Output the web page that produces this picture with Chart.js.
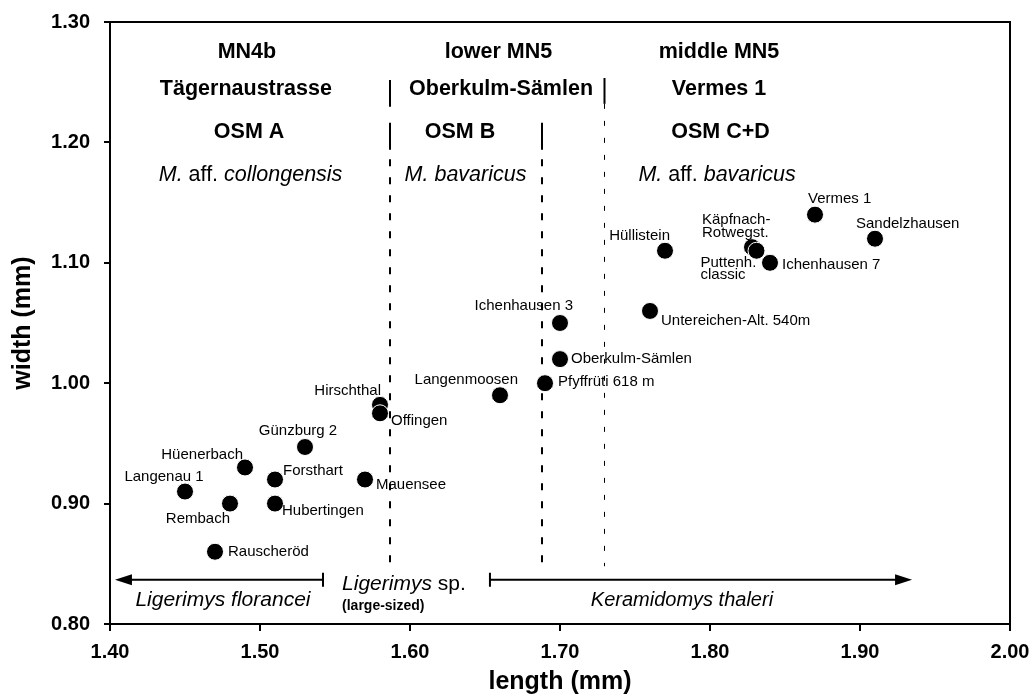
<!DOCTYPE html>
<html>
<head>
<meta charset="utf-8">
<script src="https://cdn.jsdelivr.net/npm/chart.js@4.4.1/dist/chart.umd.min.js"></script>
<style>
  html, body { margin: 0; background: #fff; }
  #chart { display: block; }
</style>
</head>
<body>
<canvas id="chart" width="1035" height="697"></canvas>
<script>
// localities with mean M1 size
const localities = [
    'Langenau 1', 'Rembach', 'Hüenerbach', 'Forsthart', 'Hubertingen', 'Günzburg 2',
    'Rauscheröd', 'Mauensee', 'Hirschthal', 'Offingen', 'Langenmoosen', 'Pfyffrüti 618 m',
    'Oberkulm-Sämlen', 'Ichenhausen 3', 'Untereichen-Alt. 540m', 'Hüllistein',
    'Käpfnach-\nRotwegst.', 'Puttenh.\nclassic', 'Ichenhausen 7', 'Vermes 1', 'Sandelzhausen'
];
const lengths = [
    1.45, 1.48, 1.49, 1.51, 1.51, 1.53,
    1.47, 1.57, 1.58, 1.58, 1.66, 1.69,
    1.70, 1.70, 1.76, 1.77,
    1.828, 1.831, 1.84, 1.87, 1.91
];
const widths = [
    0.91, 0.90, 0.93, 0.92, 0.90, 0.947,
    0.86, 0.92, 0.982, 0.975, 0.99, 1.00,
    1.02, 1.05, 1.06, 1.11,
    1.113, 1.110, 1.10, 1.14, 1.12
];

const xTicks = [1.40, 1.50, 1.60, 1.70, 1.80, 1.90, 2.00];
const yTicks = [0.80, 0.90, 1.00, 1.10, 1.20, 1.30];

const FONT = "'Liberation Sans', Arial, Helvetica, sans-serif";

// where each locality name sits next to its dot (pixels)
const labelPlacement = {
    'Langenau 1': { dx: -21, dy: -15, align: 'center' },
    'Rembach': { dx: 0, dy: 15, align: 'right' },
    'Hüenerbach': { dx: -2, dy: -13, align: 'right' },
    'Forsthart': { dx: 8, dy: -9, align: 'left' },
    'Hubertingen': { dx: 7, dy: 7, align: 'left' },
    'Günzburg 2': { dx: -7, dy: -16, align: 'center' },
    'Rauscheröd': { dx: 13, dy: 0, align: 'left' },
    'Mauensee': { dx: 11, dy: 5, align: 'left' },
    'Hirschthal': { dx: 1, dy: -14, align: 'right' },
    'Offingen': { dx: 11, dy: 8, align: 'left' },
    'Langenmoosen': { dx: 18, dy: -15, align: 'right' },
    'Pfyffrüti 618 m': { dx: 13, dy: -1, align: 'left' },
    'Oberkulm-Sämlen': { dx: 11, dy: 0, align: 'left' },
    'Ichenhausen 3': { dx: 13, dy: -17, align: 'right' },
    'Untereichen-Alt. 540m': { dx: 11, dy: 10, align: 'left' },
    'Hüllistein': { dx: 5, dy: -15, align: 'right' },
    'Käpfnach-\nRotwegst.': { dx: -50, dy: -27, align: 'left' },
    'Puttenh.\nclassic': { dx: -56, dy: 12, align: 'left' },
    'Ichenhausen 7': { dx: 12, dy: 2, align: 'left' },
    'Vermes 1': { dx: -7, dy: -16, align: 'left' },
    'Sandelzhausen': { dx: -19, dy: -15, align: 'left' }
};

// header block: biostratigraphy / reference locality / OSM unit / species
const headerRows = [
    { y: 1.275, items: [
        { x: 1.4913, parts: [['MN4b', 'bold']] },
        { x: 1.659, parts: [['lower MN5', 'bold']] },
        { x: 1.806, parts: [['middle MN5', 'bold']] }
    ]},
    { y: 1.2442, items: [
        { x: 1.4906, parts: [['Tägernaustrasse', 'bold']] },
        { x: 1.6607, parts: [['Oberkulm-Sämlen', 'bold']] },
        { x: 1.806, parts: [['Vermes 1', 'bold']] }
    ]},
    { y: 1.2084, items: [
        { x: 1.4927, parts: [['OSM A', 'bold']] },
        { x: 1.6333, parts: [['OSM B', 'bold']] },
        { x: 1.807, parts: [['OSM C+D', 'bold']] }
    ]},
    { y: 1.1726, items: [
        { x: 1.4937, parts: [['M.', 'italic'], [' aff. ', 'normal'], ['collongensis', 'italic']] },
        { x: 1.637, parts: [['M.', 'italic'], [' bavaricus', 'italic']] },
        { x: 1.8047, parts: [['M.', 'italic'], [' aff. ', 'normal'], ['bavaricus', 'italic']] }
    ]}
];

// vertical separators between the three groups
const dividers = [
    { x: 1.5867, lw: 2, dash: [7, 11], from: 0.848, to: 1.186, solid: [[1.2296, 1.2518], [1.1938, 1.2163]] },
    { x: 1.6878, lw: 2, dash: [7, 11], from: 0.848, to: 1.186, solid: [[1.1938, 1.2163]] },
    { x: 1.7293, lw: 1, dash: [5, 12], from: 0.848, to: 1.232, solid: [[1.232, 1.2535]] }
];

// species ranges along the bottom
const ranges = [
    { from: 1.542, to: 1.4033, y: 0.8367 },
    { from: 1.6533, to: 1.9347, y: 0.8367 }
];

function drawParts(ctx, parts, x, y, size, align) {
    const fontFor = style => {
        if (style === 'bold') return `bold ${size}px ${FONT}`;
        if (style === 'italic') return `italic ${size}px ${FONT}`;
        return `${size}px ${FONT}`;
    };
    let total = 0;
    parts.forEach(p => {
        ctx.font = fontFor(p[1]);
        total += ctx.measureText(p[0]).width;
    });
    let cx = align === 'center' ? x - total / 2 : x;
    ctx.textAlign = 'left';
    ctx.textBaseline = 'middle';
    parts.forEach(p => {
        ctx.font = fontFor(p[1]);
        ctx.fillText(p[0], cx, y);
        cx += ctx.measureText(p[0]).width;
    });
}

function drawRange(ctx, x1, x2, y) {
    // bar end at x1, arrow head at x2
    const dir = Math.sign(x2 - x1);
    ctx.lineWidth = 2;
    ctx.setLineDash([]);
    ctx.beginPath();
    ctx.moveTo(x1, y);
    ctx.lineTo(x2 - dir * 10, y);
    ctx.moveTo(x1, y - 7);
    ctx.lineTo(x1, y + 7);
    ctx.stroke();
    ctx.beginPath();
    ctx.moveTo(x2, y);
    ctx.lineTo(x2 - dir * 17, y - 5.5);
    ctx.lineTo(x2 - dir * 17, y + 5.5);
    ctx.closePath();
    ctx.fill();
}

const annotations = {
    id: 'annotations',
    beforeDatasetsDraw(chart) {
        const { ctx, chartArea, scales: { x, y } } = chart;
        ctx.save();
        ctx.strokeStyle = '#000';
        ctx.fillStyle = '#000';

        dividers.forEach(d => {
            const px = Math.round(x.getPixelForValue(d.x)) + (d.lw === 1 ? 0.5 : 0);
            ctx.lineWidth = d.lw;
            ctx.setLineDash(d.dash);
            ctx.beginPath();
            ctx.moveTo(px, y.getPixelForValue(d.to));
            ctx.lineTo(px, y.getPixelForValue(d.from));
            ctx.stroke();
            ctx.setLineDash([]);
            ctx.lineWidth = 2;
            d.solid.forEach(s => {
                ctx.beginPath();
                ctx.moveTo(px, y.getPixelForValue(s[0]));
                ctx.lineTo(px, y.getPixelForValue(s[1]));
                ctx.stroke();
            });
        });

        ranges.forEach(r => drawRange(ctx, x.getPixelForValue(r.from), x.getPixelForValue(r.to), y.getPixelForValue(r.y)));

        headerRows.forEach(row => {
            const py = y.getPixelForValue(row.y);
            row.items.forEach(it => drawParts(ctx, it.parts, x.getPixelForValue(it.x), py, 21.5, 'center'));
        });

        // species names under the ranges
        const by = y.getPixelForValue(0.8195);
        drawParts(ctx, [['Ligerimys florancei', 'italic']], x.getPixelForValue(1.4753), by, 21, 'center');
        drawParts(ctx, [['Keramidomys thaleri', 'italic']], x.getPixelForValue(1.7813), by, 20, 'center');
        drawParts(ctx, [['Ligerimys', 'italic'], [' sp.', 'normal']], x.getPixelForValue(1.5547), y.getPixelForValue(0.8333), 21, 'left');
        drawParts(ctx, [['(large-sized)', 'bold']], x.getPixelForValue(1.5547), y.getPixelForValue(0.8151), 14, 'left');

        // plot frame
        ctx.setLineDash([]);
        ctx.lineWidth = 2;
        ctx.strokeRect(chartArea.left, chartArea.top, chartArea.right - chartArea.left, chartArea.bottom - chartArea.top);
        ctx.restore();
    },
    afterDatasetsDraw(chart) {
        const { ctx } = chart;
        const meta = chart.getDatasetMeta(0);
        ctx.save();
        ctx.fillStyle = '#000';
        ctx.font = `15px ${FONT}`;
        ctx.textBaseline = 'middle';
        meta.data.forEach((pt, i) => {
            const name = localities[i];
            const pl = labelPlacement[name] || { dx: 10, dy: 0, align: 'left' };
            ctx.textAlign = pl.align;
            name.split('\n').forEach((line, k) => {
                ctx.fillText(line, pt.x + pl.dx, pt.y + pl.dy + k * 12.5);
            });
        });
        ctx.restore();
    }
};

new Chart(document.getElementById('chart'), {
    type: 'scatter',
    data: {
        datasets: [{
            data: lengths.map((v, i) => ({ x: v, y: widths[i] })),
            backgroundColor: '#000',
            borderColor: '#fff',
            borderWidth: 1,
            pointRadius: 8.5,
            pointHoverRadius: 8.5
        }]
    },
    options: {
        responsive: false,
        animation: false,
        events: [],
        layout: { padding: { top: 22, right: 25, left: 0, bottom: 0 } },
        plugins: { legend: { display: false }, tooltip: { enabled: false } },
        scales: {
            x: {
                min: xTicks[0],
                max: xTicks[xTicks.length - 1],
                afterBuildTicks: s => { s.ticks = xTicks.map(v => ({ value: v })); },
                afterFit: s => {
                    s.height = 73;
                    s.paddingLeft = 0;
                    s.paddingRight = 0;
                },
                ticks: {
                    color: '#000',
                    padding: 9,
                    font: { family: FONT, size: 20, weight: 'bold' },
                    callback: v => v.toFixed(2)
                },
                grid: { drawOnChartArea: false, tickLength: 7, color: '#000', lineWidth: 2 },
                border: { color: '#000', width: 2 },
                title: {
                    display: true,
                    text: 'length (mm)',
                    color: '#000',
                    font: { family: FONT, size: 25, weight: 'bold' },
                    padding: { top: 0, bottom: 0 }
                }
            },
            y: {
                min: yTicks[0],
                max: yTicks[yTicks.length - 1],
                afterBuildTicks: s => { s.ticks = yTicks.map(v => ({ value: v })); },
                afterFit: s => {
                    s.width = 110;
                    s.paddingTop = 0;
                    s.paddingBottom = 0;
                },
                ticks: {
                    color: '#000',
                    padding: 14,
                    font: { family: FONT, size: 20, weight: 'bold' },
                    callback: v => v.toFixed(2)
                },
                grid: { drawOnChartArea: false, tickLength: 6, color: '#000', lineWidth: 2 },
                border: { color: '#000', width: 2 },
                title: {
                    display: true,
                    text: 'width (mm)',
                    color: '#000',
                    font: { family: FONT, size: 25, weight: 'bold' },
                    padding: { top: 8, bottom: 0 }
                }
            }
        }
    },
    plugins: [annotations]
});
</script>
</body>
</html>
